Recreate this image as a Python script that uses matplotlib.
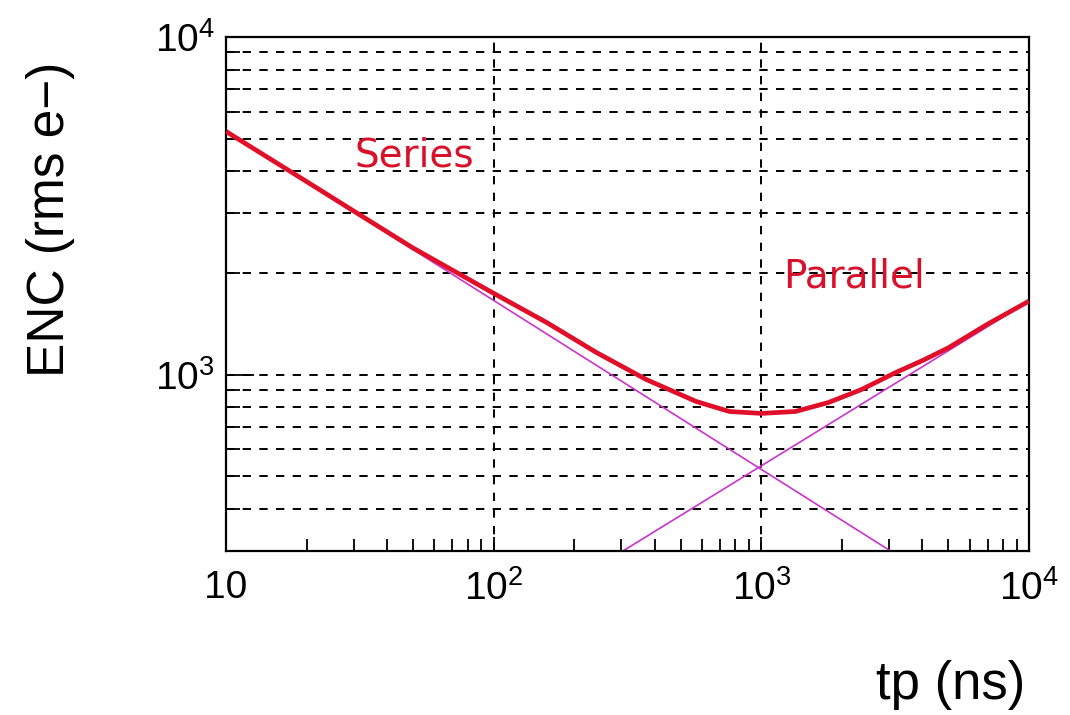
import matplotlib
matplotlib.use("Agg")
import matplotlib.pyplot as plt
from matplotlib.ticker import LogLocator, FixedLocator, FixedFormatter, NullFormatter
import numpy as np

plt.rcParams['font.family'] = ['Liberation Sans', 'DejaVu Sans']
plt.rcParams['mathtext.fontset'] = 'custom'
plt.rcParams['mathtext.rm'] = 'Liberation Sans'
plt.rcParams['mathtext.default'] = 'regular'
plt.rcParams['lines.scale_dashes'] = False

# total ENC curve
tp_total = [10, 20, 30, 50, 100, 158, 242, 372, 571, 760, 1000, 1340, 1780, 2370, 3180, 4000, 5000, 7000, 10000]
enc_total = [5250, 3730, 3050, 2370, 1740, 1425, 1162, 966, 832, 777, 767, 777, 826, 903, 1014, 1100, 1200, 1410, 1650]

# series and parallel noise asymptotes (straight lines in log-log)
tp_series = [10, 3040]
enc_series = [5250, 300]
tp_parallel = [304, 10000]
enc_parallel = [300, 1650]

x_ticks = [10, 100, 1000, 10000]
x_labels = ['10', '$10^{2}$', '$10^{3}$', '$10^{4}$']
y_ticks = [1000, 10000]
y_labels = ['$10^{3}$', '$10^{4}$']

fig = plt.figure(figsize=(10.7, 7.15), dpi=100)
ax = fig.add_axes([226 / 1070, 1 - 551 / 715, 803 / 1070, 514 / 715])
ax.set_xscale('log')
ax.set_yscale('log')
ax.set_xlim(10, 10000)
ax.set_ylim(300, 10000)

# grid: vertical only at decades, horizontal at every log step
grid_style = dict(color='black', lw=1.4, ls=(0, (6, 6)), zorder=1)
for x in [100, 1000]:
    ax.axvline(x, **grid_style)
for y in [400, 500, 600, 700, 800, 900, 1000, 2000, 3000, 4000, 5000, 6000, 7000, 8000, 9000]:
    ax.axhline(y, **grid_style)

ax.plot(tp_series, enc_series, color='#cc33cc', lw=1.2, zorder=2)
ax.plot(tp_parallel, enc_parallel, color='#cc33cc', lw=1.2, zorder=2)
ax.plot(tp_total, enc_total, color='#e0102a', lw=3.4, zorder=3, solid_capstyle='butt', solid_joinstyle='round')

ax.text(30.3, 4125, 'Series', color='#d8102a', fontsize=28, family='DejaVu Sans', ha='left', va='baseline')
ax.text(1208, 1808, 'Parallel', color='#d8102a', fontsize=28, family='DejaVu Sans', ha='left', va='baseline')

ax.xaxis.set_major_locator(FixedLocator(x_ticks))
ax.xaxis.set_major_formatter(FixedFormatter(x_labels))
ax.xaxis.set_minor_locator(LogLocator(base=10, subs=np.arange(2, 10)))
ax.xaxis.set_minor_formatter(NullFormatter())
ax.yaxis.set_major_locator(FixedLocator(y_ticks))
ax.yaxis.set_major_formatter(FixedFormatter(y_labels))
ax.yaxis.set_minor_locator(LogLocator(base=10, subs=np.arange(2, 10)))
ax.yaxis.set_minor_formatter(NullFormatter())

ax.tick_params(which='both', direction='in', top=False, right=False, width=1.3, labelsize=28)
ax.tick_params(axis='x', which='major', length=10, pad=14)
ax.tick_params(axis='x', which='minor', length=9)
ax.tick_params(axis='y', which='major', length=20, pad=8)
ax.tick_params(axis='y', which='minor', length=10)

for s in ax.spines.values():
    s.set_linewidth(1.6)

ax.set_xlabel('tp (ns)', fontsize=38, ha='right', va='center')
ax.xaxis.set_label_coords(0.995, -0.26)
ax.set_ylabel('ENC (rms e\u2212)', fontsize=37, ha='center', va='center')
ax.yaxis.set_label_coords(-0.219, 0.645)

fig.savefig('out.png', dpi=100)
